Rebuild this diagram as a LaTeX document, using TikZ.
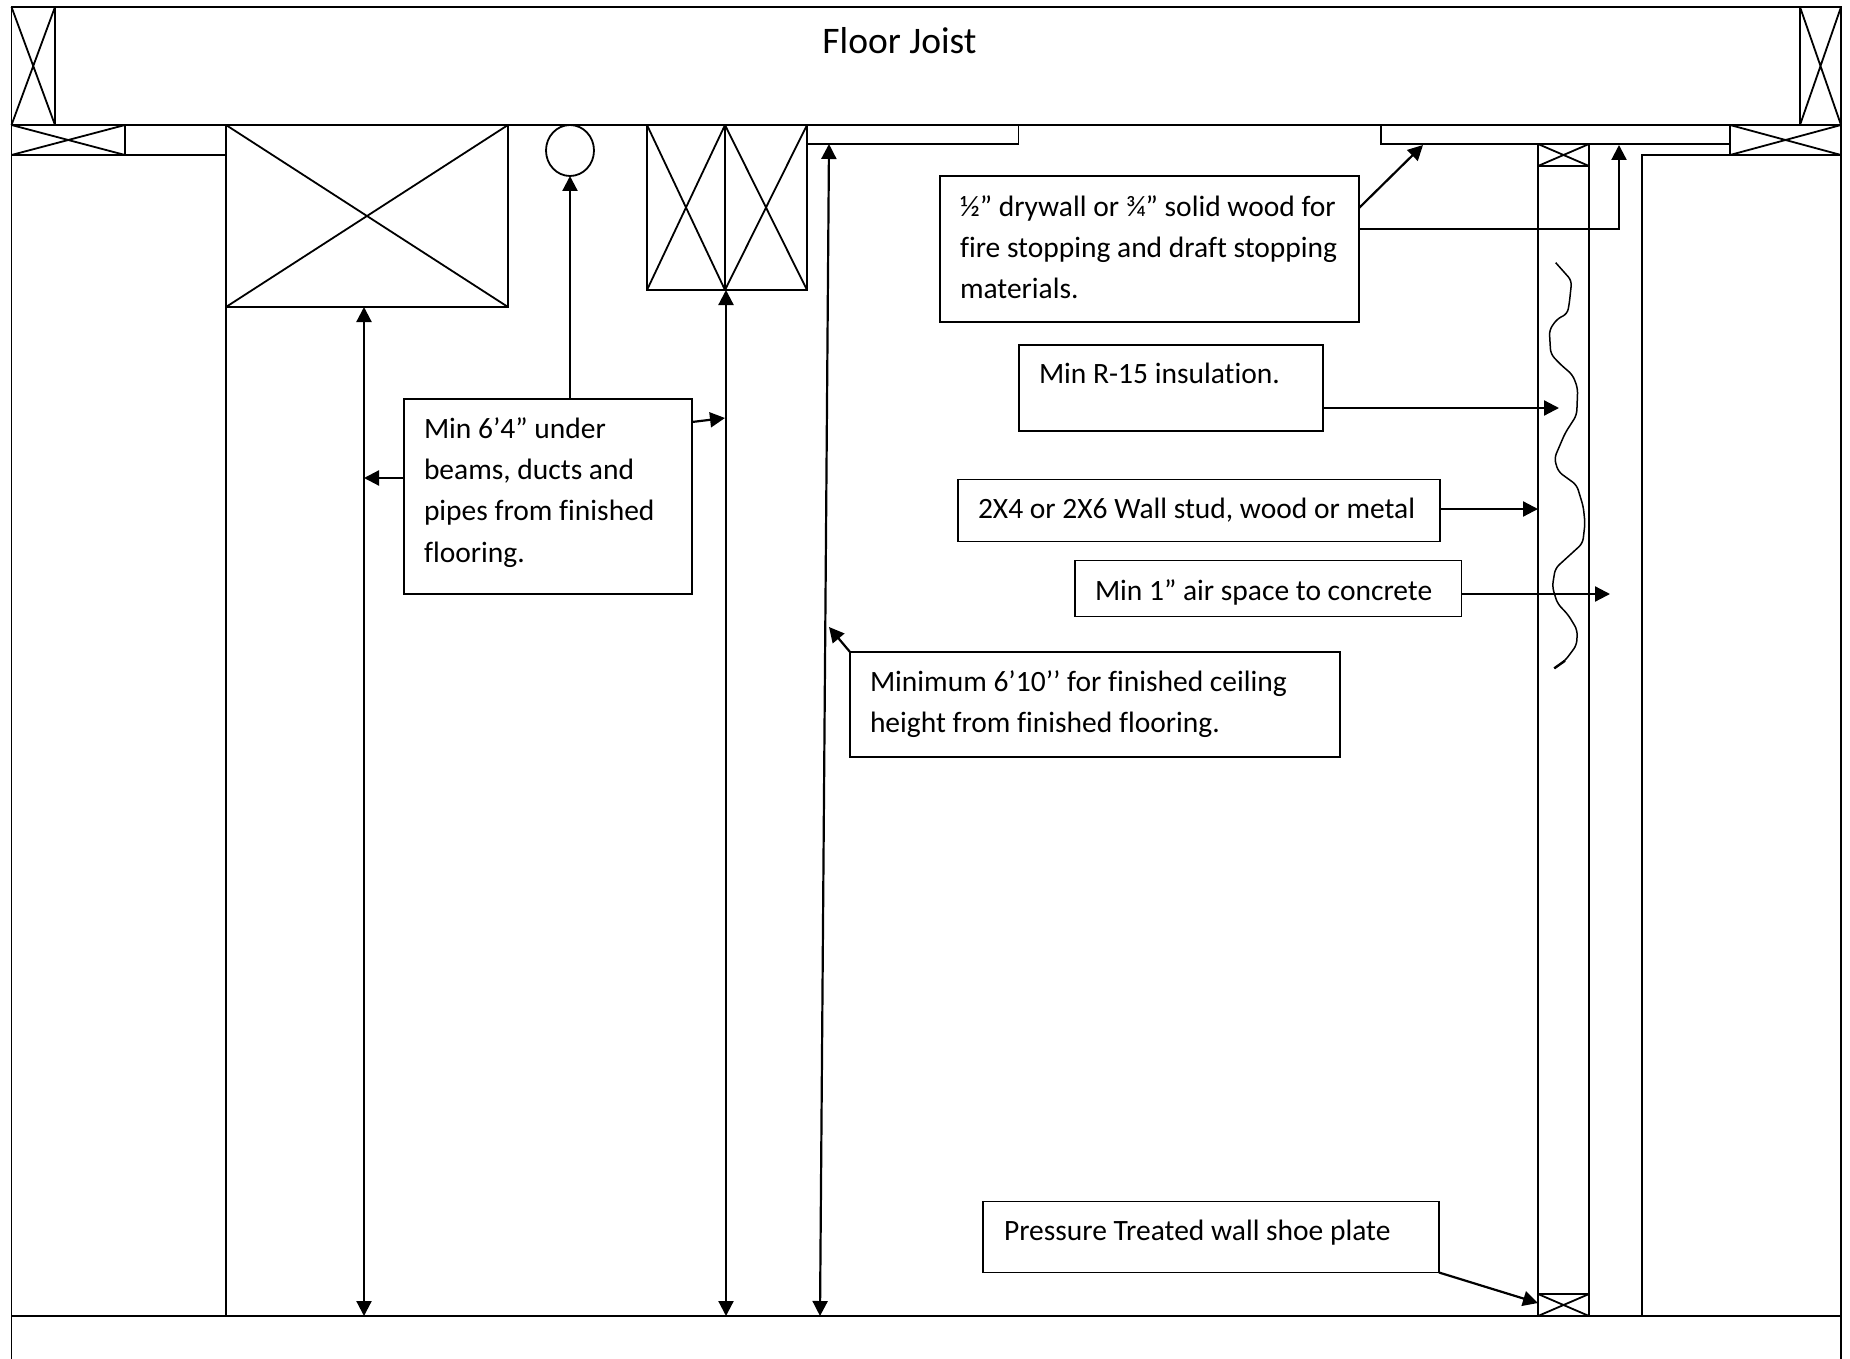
\documentclass[tikz,border=0pt]{standalone}
\usepackage{fontspec}
\setmainfont[Ligatures=NoCommon]{Carlito}
\usetikzlibrary{positioning,arrows.meta,shapes.geometric}

\begin{document}
\begin{tikzpicture}[
		x=1pt, y=-1pt
		,line width=1.8pt
		,plain/.style={draw, rectangle, inner sep=0pt, outer sep=0pt, anchor=north west}
		,note/.style={plain, fill=white}
		,txt/.style={inner sep=0pt, outer sep=0pt, anchor=north west, align=left, font=\fontsize{29.5}{41.3}\selectfont, execute at begin node=\strut}
		,arr/.style={line width=2.2pt, -{Triangle[length=15pt,width=15pt]}}
		,dimen/.style={line width=2.2pt, {Triangle[length=15pt,width=15pt]}-{Triangle[length=15pt,width=15pt]}}
	]
		\useasboundingbox (0,0) rectangle (1850,1359);

		% joist, plates and walls
		\node[plain, minimum width=1829.5pt, minimum height=118pt] (joist) at (11.5,7) {};
		\node[font=\fontsize{37.5}{41}\selectfont] (joisttxt) at (899.5,41) {Floor Joist};
		\node[plain, minimum width=43.5pt, minimum height=118pt] (jleft) at (11.5,7) {};
		\node[plain, minimum width=41pt, minimum height=118pt] (jright) at (1800,7) {};
		\node[plain, minimum width=214.5pt, minimum height=1161pt] (wallL) at (11.5,155) {};
		\node[plain, minimum width=199pt, minimum height=1161pt] (wallR) at (1642,155) {};
		\node[plain, minimum width=113.5pt, minimum height=30pt] (plateL) at (11.5,125) {};
		\node[plain, minimum width=111pt, minimum height=30pt] (plateR) at (1730,125) {};
		\node[plain, minimum width=51pt, minimum height=1172pt] (stud) at (1538,144) {};
		\node[plain, minimum width=51pt, minimum height=22pt] (studtop) at (1538,144) {};
		\node[plain, minimum width=51pt, minimum height=22pt] (studshoe) at (1538,1294) {};
		\draw (wallL.south west) -- +(0,43);
		\draw (wallR.south east) -- +(0,43);
		\draw (wallL.south west) -- (wallR.south east);

		% things under the joist
		\node[plain, minimum width=282pt, minimum height=182pt] (beam) at (226,125) {};
		\node[plain, minimum width=78pt, minimum height=165pt] (ductL) at (647,125) {};
		\node[plain, minimum width=82pt, minimum height=165pt, right=0pt of ductL.north east, anchor=north west] (ductR) {};
		\node[draw, ellipse, inner sep=0pt, outer sep=0pt, minimum width=48pt, minimum height=51pt] (pipe) at (570,150.5) {};
		\node[plain, minimum width=211pt, minimum height=19pt] (fireL) at (807.5,125) {};
		\node[plain, minimum width=349pt, minimum height=19pt] (fireR) at (1381,125) {};

		\draw (jleft.north west) -- (jleft.south east) (jleft.north east) -- (jleft.south west);
		\draw (jright.north west) -- (jright.south east) (jright.north east) -- (jright.south west);
		\draw (plateL.north west) -- (plateL.south east) (plateL.north east) -- (plateL.south west);
		\draw (plateR.north west) -- (plateR.south east) (plateR.north east) -- (plateR.south west);
		\draw (studtop.north west) -- (studtop.south east) (studtop.north east) -- (studtop.south west);
		\draw (studshoe.north west) -- (studshoe.south east) (studshoe.north east) -- (studshoe.south west);
		\draw (beam.north west) -- (beam.south east) (beam.north east) -- (beam.south west);
		\draw (ductL.north west) -- (ductL.south east) (ductL.north east) -- (ductL.south west);
		\draw (ductR.north west) -- (ductR.south east) (ductR.north east) -- (ductR.south west);

		% insulation
		\draw[line width=1.5pt, rounded corners=5pt] (1555.7,262.7) -- (1571.7,280.7) -- (1569.3,303.3) -- (1567.3,314) -- (1557.3,318.7) -- (1549.3,330) -- (1550.7,354) -- (1560,364) -- (1572.7,375) -- (1577.7,388.3) -- (1576.7,415) -- (1565,433.3) -- (1554.3,458.3) -- (1558.3,471.7) -- (1576.7,485) -- (1583.3,506.7) -- (1585,523.3) -- (1582.7,543.3) -- (1555.3,568.3) -- (1552.3,586.7) -- (1557.3,603.3) -- (1568.3,615) -- (1577.3,630) -- (1576.7,645) -- (1565,660.7) -- (1554.3,668.3);
		\draw[line width=2.4pt] (1565,660.7) -- (1554.3,668.3);

		% notes
		\node[note, minimum width=288pt, minimum height=195pt] (minbox) at (404,399) {};
		\node[txt] (mintxt) at ([xshift=20pt,yshift=-18.5pt]minbox.north west) {Min 6’4” under\\beams, ducts and\\pipes from finished\\flooring.};
		\node[note, minimum width=419pt, minimum height=146pt] (firebox) at (940,176) {};
		\node[txt] (firetxt) at ([xshift=20pt,yshift=-19.5pt]firebox.north west) {½” drywall or ¾” solid wood for\\fire stopping and draft stopping\\materials.};
		\node[note, minimum width=304pt, minimum height=86pt] (rbox) at (1019,345) {};
		\node[txt] (rtxt) at ([xshift=20pt,yshift=-10pt]rbox.north west) {Min R-15 insulation.};
		\node[note, minimum width=482pt, minimum height=62pt] (studbox) at (958,479.5) {};
		\node[txt] (studtxt) at ([xshift=20pt,yshift=-10.5pt]studbox.north west) {2X4 or 2X6 Wall stud, wood or metal};
		\node[note, minimum width=386.5pt, minimum height=56pt] (airbox) at (1075,560.5) {};
		\node[txt] (airtxt) at ([xshift=20pt,yshift=-11pt]airbox.north west) {Min 1” air space to concrete};
		\node[note, minimum width=490pt, minimum height=105pt] (ceilbox) at (850,652) {};
		\node[txt] (ceiltxt) at ([xshift=20pt,yshift=-18.5pt]ceilbox.north west) {Minimum 6’10’’ for finished ceiling\\height from finished flooring.};
		\node[note, minimum width=456pt, minimum height=71pt] (shoebox) at (983,1201.5) {};
		\node[txt] (shoetxt) at ([xshift=21pt,yshift=-10pt]shoebox.north west) {Pressure Treated wall shoe plate};

		% connectors
		\coordinate (dimA) at (364,1316);
		\coordinate (dimB) at (726,1316);
		\coordinate (dimCtop) at (829,144);
		\coordinate (dimCbot) at (820,1316);
		\coordinate (tipA) at (364,478);
		\coordinate (tipB) at (725,418);
		\coordinate (tipBs) at (692,422);
		\coordinate (tipC) at (829,627);
		\coordinate (tipD) at (1423,145);
		\coordinate (tipDs) at (1359,208);
		\coordinate (tipE) at (1619,145);
		\coordinate (tipEs) at (1619,229);
		\coordinate (tipR) at (1559,408);
		\coordinate (tipS) at (1538,509);
		\coordinate (tipF) at (1610,594);
		\coordinate (tipG) at (1538,1303);

		\draw[dimen] (dimA |- beam.south) -- (dimA);
		\draw[dimen] (dimB |- ductL.south) -- (dimB);
		\draw[dimen] (dimCtop) -- (dimCbot);
		\draw[arr] (pipe.south |- minbox.north) -- (pipe.south);
		\draw[arr] (minbox.west |- tipA) -- (tipA);
		\draw[arr] (tipBs) -- (tipB);
		\draw[arr] (ceilbox.north west) -- (tipC);
		\draw[arr] (tipDs) -- (tipD);
		\draw[arr] (firebox.east |- tipEs) -- (tipEs) -- (tipE);
		\draw[arr] (rbox.east |- tipR) -- (tipR);
		\draw[arr] (studbox.east |- tipS) -- (tipS);
		\draw[arr] (airbox.east |- tipF) -- (tipF);
		\draw[arr] (shoebox.south east) -- (tipG);
	\end{tikzpicture}
\end{document}
